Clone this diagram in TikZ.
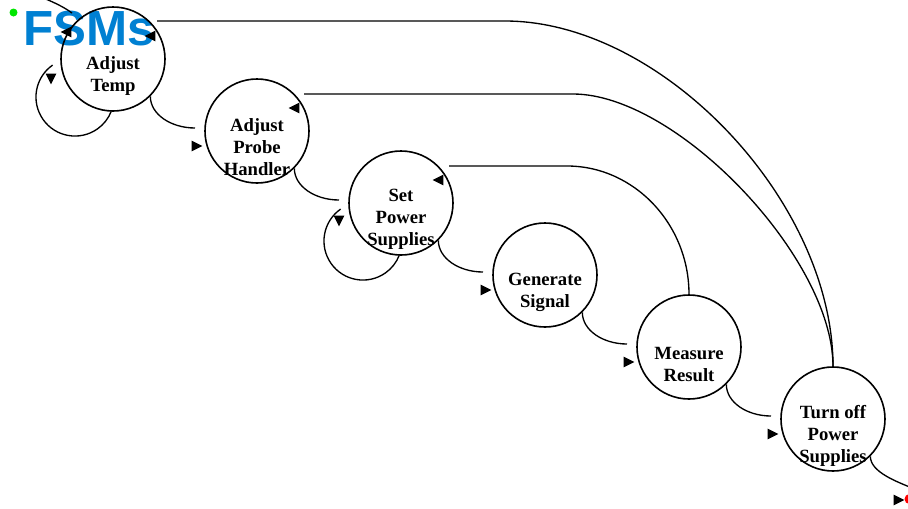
\documentclass[tikz,border=0pt]{standalone}
\usepackage{fontspec}
\setmainfont{Liberation Serif}
\newfontfamily\titlefont{Liberation Sans}
\usetikzlibrary{shapes.geometric,calc}
\definecolor{fsmblue}{RGB}{0,128,210}
\definecolor{dotgreen}{RGB}{0,230,0}
\begin{document}
\begin{tikzpicture}[x=0.75pt,y=-0.75pt,
  state/.style={circle,draw,line width=1.2pt,minimum size=78pt,inner sep=0pt},
  statetext/.style={font=\fontsize{14}{16.5}\selectfont\bfseries,align=center,inner sep=0pt},
  conn/.style={line width=1pt},
  arrowtri/.style={isosceles triangle,isosceles triangle apex angle=64,fill=black,inner sep=0pt,
    minimum height=8pt,minimum width=8pt,isosceles triangle stretches,shape border rotate=#1},
]
\useasboundingbox (0,0) rectangle (908,508);
\clip (0,0) rectangle (908,508);

% title
\node[anchor=base west,inner sep=0pt,font=\titlefont\bfseries\fontsize{37}{40}\selectfont,text=fsmblue] (title) at (23,45) {FSMs};
\node[circle,fill=dotgreen,minimum size=6pt,inner sep=0pt] (dot) at (13.5,12.5) {};

% states
\node[state] (at) at (113,59) {};
\node[state] (ph) at (257,131) {};
\node[state] (sp) at (401,203) {};
\node[state] (gs) at (545,275) {};
\node[state] (mr) at (689,347) {};
\node[state] (tp) at (833,419) {};

\node[statetext] (atT) at (113,76) {Adjust\\Temp};
\node[statetext] (phT) at (257,147.5) {Adjust\\Probe\\Handler};
\node[statetext] (spT) at (401,219.5) {Set\\Power\\Supplies};
\node[statetext] (gsT) at (545,292) {Generate\\Signal};
\node[statetext] (mrT) at (689,364) {Measure\\Result};
\node[statetext] (tpT) at (833,435.5) {Turn off\\Power\\Supplies};

% free ends
\coordinate (init) at (15,-12);
\coordinate (initend) at (72,13);
\coordinate (a1s) at (157,21);
\coordinate (a2s) at (304,94);
\coordinate (a3s) at (449,166);
\coordinate (phin) at ($(ph.center)+(-62,-3)$);
\coordinate (spin) at ($(sp.center)+(-62,-3)$);
\coordinate (gsin) at ($(gs.center)+(-62,-3)$);
\coordinate (mrin) at ($(mr.center)+(-62,-3)$);
\coordinate (tpin) at ($(tp.center)+(-62,-3)$);
\coordinate (exitend) at (912,488);
\coordinate (atloop) at ($(at.center)+(-60.4,6.1)$);
\coordinate (sploop) at ($(sp.center)+(-60.4,6.1)$);

% initial transition
\draw[conn] (init) .. controls (40,-4) and (60,4) .. (initend);

% long return arcs
\draw[conn] (a1s) -- (505,21) .. controls (662,21) and (833,201) .. (tp.north);
\draw[conn] (a2s) -- (573,94) .. controls (677,94) and (833,258) .. (tp.north);
\draw[conn] (a3s) -- (567,166) .. controls (634,166) and (689,224) .. (mr.north);

% forward transitions
\draw[conn] (at.-45) .. controls +(0,18) and +(-24,0) .. (phin);
\draw[conn] (ph.-45) .. controls +(0,18) and +(-24,0) .. (spin);
\draw[conn] (sp.-45) .. controls +(0,18) and +(-24,0) .. (gsin);
\draw[conn] (gs.-45) .. controls +(0,18) and +(-24,0) .. (mrin);
\draw[conn] (mr.-45) .. controls +(0,18) and +(-24,0) .. (tpin);
\draw[conn] (tp.-45) .. controls +(0,16) and +(-14,-6) .. (exitend);

% self loops
\draw[conn] (atloop) arc[start angle=235,end angle=21.5,radius=39];
\draw[conn] (sploop) arc[start angle=235,end angle=21.5,radius=39];

% arrow heads
\node[arrowtri=150] (h1) at (68,32) {};
\node[arrowtri=165] (h2) at (152,36) {};
\node[arrowtri=-82] (h3) at (51,77) {};
\node[arrowtri=0] (h4) at (195,146) {};
\node[arrowtri=165] (h5) at (296,108) {};
\node[arrowtri=-72] (h6) at (339,219) {};
\node[arrowtri=165] (h7) at (440,180) {};
\node[arrowtri=0] (h8) at (484,290) {};
\node[arrowtri=0] (h9) at (627,362) {};
\node[arrowtri=0] (h10) at (771,434) {};
\node[arrowtri=0] (h11) at (897,500) {};

\node[circle,fill=red,minimum size=7.5pt,inner sep=0pt] (final) at (909.5,499) {};
\end{tikzpicture}
\end{document}
